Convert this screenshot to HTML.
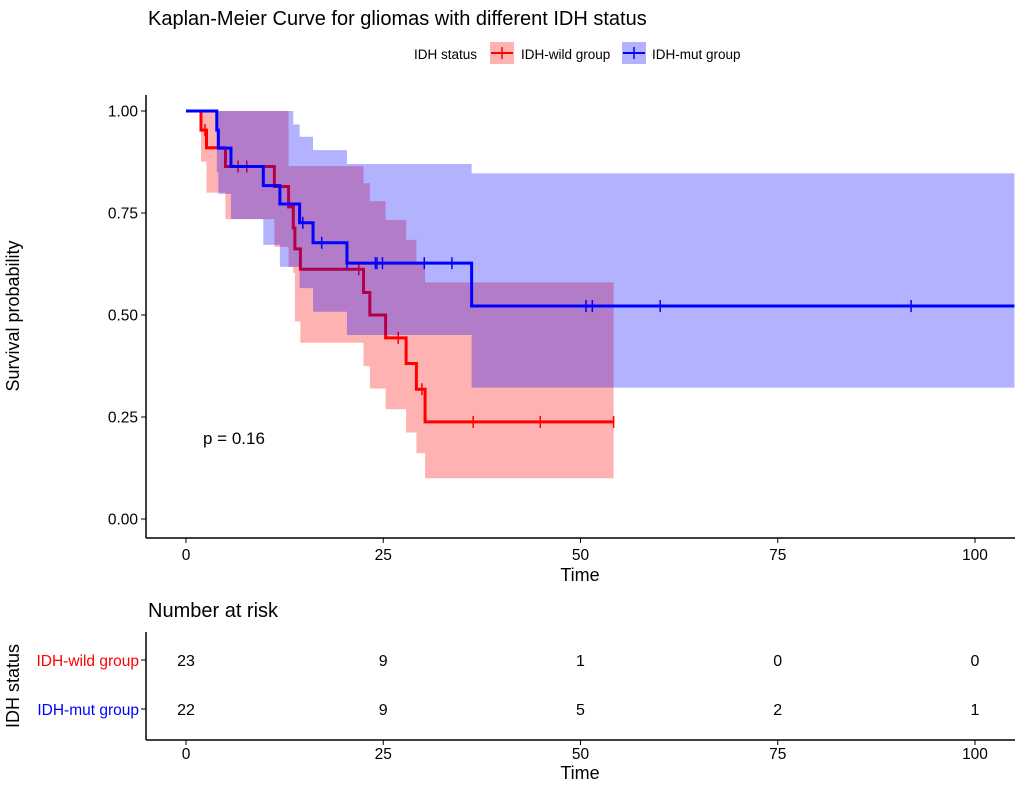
<!DOCTYPE html>
<html><head><meta charset="utf-8"><style>
body{margin:0;background:#fff;}
svg text{font-family:"Liberation Sans",Arial,sans-serif;}
</style></head><body>
<svg id="chart" width="1020" height="785" xmlns="http://www.w3.org/2000/svg">
<text x="148" y="25" font-size="20">Kaplan-Meier Curve for gliomas with different IDH status</text>
<g>
<text x="414" y="59" font-size="13.5">IDH status</text>
<g><rect x="490" y="42" width="24" height="22" fill="rgba(255,0,0,0.3)"/><line x1="491" y1="53" x2="513" y2="53" stroke="#f00" stroke-width="2"/><line x1="502" y1="47" x2="502" y2="59" stroke="#f00" stroke-width="1.5"/><text x="521" y="59" font-size="13.5">IDH-wild group</text></g>
<g><rect x="622" y="42" width="24" height="22" fill="rgba(0,0,255,0.3)"/><line x1="623" y1="53" x2="645" y2="53" stroke="#00f" stroke-width="2"/><line x1="634" y1="47" x2="634" y2="59" stroke="#00f" stroke-width="1.5"/><text x="652" y="59" font-size="13.5">IDH-mut group</text></g>
</g>
<g id="plot"></g>
<g id="axes"></g>
<text x="203" y="444" font-size="17">p = 0.16</text>
<text transform="translate(19,316) rotate(-90)" text-anchor="middle" font-size="18">Survival probability</text>
<text x="580" y="581" text-anchor="middle" font-size="18">Time</text>
<text x="148" y="617" font-size="20">Number at risk</text>
<text transform="translate(19,686) rotate(-90)" text-anchor="middle" font-size="18">IDH status</text>
<text x="139" y="666" text-anchor="end" font-size="15.5" fill="#f00">IDH-wild group</text>
<text x="139" y="715" text-anchor="end" font-size="15.5" fill="#00f">IDH-mut group</text>
<text x="580" y="779" text-anchor="middle" font-size="18">Time</text>
<g id="risk"></g>
</svg>
<script>
const wildTimes=[0,1.9,2.6,5.0,11.2,13.0,13.6,13.8,14.5,22.5,23.3,25.3,27.9,29.2,30.3];
const wildSurv=[1,0.953,0.91,0.864,0.815,0.765,0.713,0.662,0.612,0.555,0.5,0.444,0.381,0.318,0.238];
const wildEnd=54.2;
const wildCensor=[2.4,6.6,7.7,21.9,26.9,29.9,36.4,44.9,54.2];
const wildLowT=[0,1.9,2.6,5.0,11.2,13.0,13.6,13.8,14.5,22.5,23.3,25.3,27.9,29.2,30.3];
const wildLow=[1,0.876,0.80,0.735,0.667,0.618,0.603,0.484,0.432,0.375,0.32,0.269,0.212,0.161,0.10];
const wildUpT=[0,13.0,22.5,23.3,25.3,27.9,29.2,30.3];
const wildUp=[1,0.865,0.823,0.779,0.733,0.684,0.63,0.58];
const mutTimes=[0,3.9,4.1,5.7,9.8,11.9,14.4,16.1,20.4,36.2];
const mutSurv=[1,0.953,0.909,0.864,0.817,0.772,0.726,0.677,0.627,0.522];
const mutEnd=105;
const mutCensor=[14.8,17.2,20.4,24.0,24.2,24.9,30.2,33.7,50.7,51.5,60.1,91.9];
const mutLowT=[0,3.9,4.1,5.7,9.8,11.9,14.4,16.1,20.4,36.2];
const mutLow=[1,0.85,0.797,0.735,0.672,0.618,0.566,0.508,0.451,0.322];
const mutUpT=[0,13.6,14.4,16.1,20.4,36.2];
const mutUp=[1,0.967,0.937,0.904,0.870,0.847];
const xTicks=[0,25,50,75,100];
const yTicks=[0,0.25,0.5,0.75,1.0];
const riskWild=[23,9,1,0,0];
const riskMut=[22,9,5,2,1];

const X=t=>186+t*7.89, Y=s=>519-s*408;
const NS="http://www.w3.org/2000/svg";
const plot=document.getElementById('plot'),axes=document.getElementById('axes'),risk=document.getElementById('risk');
function mk(tag,attrs,parent){const e=document.createElementNS(NS,tag);for(const k in attrs)e.setAttribute(k,attrs[k]);parent.appendChild(e);return e;}
function stepPts(ts,vs,end){let p=[];for(let i=0;i<ts.length;i++){if(i>0)p.push([X(ts[i]),Y(vs[i-1])]);p.push([X(ts[i]),Y(vs[i])]);}p.push([X(end),Y(vs[vs.length-1])]);return p;}
function ribbon(upT,up,lowT,low,end,fill,name){
  const u=stepPts(upT,up,end),l=stepPts(lowT,low,end).reverse();
  const el=mk('path',{d:'M'+u.concat(l).map(p=>p.join(',')).join('L')+'Z',fill:fill},plot);
  
  
}
function curve(ts,vs,end,cens,col,name){
  const el=mk('path',{d:'M'+stepPts(ts,vs,end).map(p=>p.join(',')).join('L'),fill:'none',stroke:col,'stroke-width':3},plot);
  
  
  cens.forEach(c=>{let s=vs[0];for(let i=0;i<ts.length;i++)if(ts[i]<=c)s=vs[i];
    const m=mk('line',{x1:X(c),x2:X(c),y1:Y(s)-6,y2:Y(s)+6,stroke:col,'stroke-width':1.5},plot);
    
    });
}
ribbon(wildUpT,wildUp,wildLowT,wildLow,wildEnd,'rgba(255,0,0,0.3)','wild-ci-band');
curve(wildTimes,wildSurv,wildEnd,wildCensor,'#f00','wild');
ribbon(mutUpT,mutUp,mutLowT,mutLow,mutEnd,'rgba(0,0,255,0.3)','mut-ci-band');
curve(mutTimes,mutSurv,mutEnd,mutCensor,'#00f','mut');

mk('line',{x1:146,y1:95,x2:146,y2:538,stroke:'#000','stroke-width':1.5},axes);
mk('line',{x1:146,y1:538,x2:1015,y2:538,stroke:'#000','stroke-width':1.5},axes);
yTicks.forEach(v=>{mk('line',{x1:141,x2:146,y1:Y(v),y2:Y(v),stroke:'#000'},axes);
  const t=mk('text',{x:138,y:Y(v)+5.5,'text-anchor':'end','font-size':15.5},axes);t.textContent=v.toFixed(2);
  
  });
xTicks.forEach(v=>{mk('line',{x1:X(v),x2:X(v),y1:538,y2:543,stroke:'#000'},axes);
  const t=mk('text',{x:X(v),y:560,'text-anchor':'middle','font-size':15.5},axes);t.textContent=v;
  
  });
mk('line',{x1:146,y1:632,x2:146,y2:740,stroke:'#000','stroke-width':1.5},risk);
mk('line',{x1:146,y1:740,x2:1015,y2:740,stroke:'#000','stroke-width':1.5},risk);
[660,709].forEach(y=>mk('line',{x1:141,x2:146,y1:y,y2:y,stroke:'#000'},risk));
xTicks.forEach((v,i)=>{mk('line',{x1:X(v),x2:X(v),y1:740,y2:745,stroke:'#000'},risk);
  const t=mk('text',{x:X(v),y:759,'text-anchor':'middle','font-size':15.5},risk);t.textContent=v;
  
  
  const a=mk('text',{x:X(v),y:666,'text-anchor':'middle','font-size':16},risk);a.textContent=riskWild[i];
  
  
  const b=mk('text',{x:X(v),y:715,'text-anchor':'middle','font-size':16},risk);b.textContent=riskMut[i];
  
  });
</script>
</body></html>
